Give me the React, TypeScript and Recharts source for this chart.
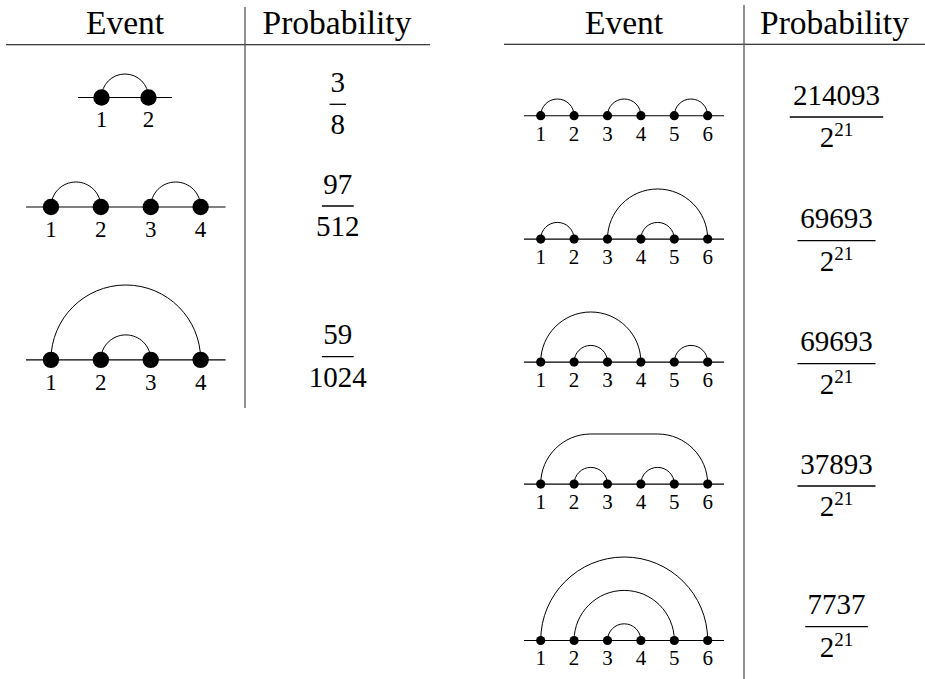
import React from 'react';
import { ComposedChart, Line, XAxis, YAxis } from 'recharts';

// ---------------- data ----------------
const HEADERS = ['Event', 'Probability'];

// left table: node labels, arcs [from, to, (optional height)] and probabilities
const LEFT_NODES: number[][] = [
  [1, 2],
  [1, 2, 3, 4],
  [1, 2, 3, 4],
];
const LEFT_ARCS: number[][][] = [
  [[1, 2]],
  [[1, 2], [3, 4]],
  [[1, 4], [2, 3]],
];
const LEFT_NUMERATORS = ['3', '97', '59'];
const LEFT_DENOMINATORS = ['8', '512', '1024'];

// right table
const RIGHT_NODES: number[] = [1, 2, 3, 4, 5, 6];
const RIGHT_ARCS: number[][][] = [
  [[1, 2], [3, 4], [5, 6]],
  [[1, 2], [3, 6], [4, 5]],
  [[1, 4], [2, 3], [5, 6]],
  [[1, 6, 1.5], [2, 3], [4, 5]],
  [[1, 6], [2, 5], [3, 4]],
];
const RIGHT_NUMERATORS = ['214093', '69693', '69693', '37893', '7737'];
const RIGHT_DEN_BASE = '2';
const RIGHT_DEN_EXP = '21';

// ---------------- layout ----------------
const SERIF = 'Liberation Serif';
const LEFT_LINE_Y = [97.7, 206.7, 360.3];
const LEFT_LINE_X = [78, 26, 26];
const LEFT_UNIT = [47, 49.9, 49.9];
const LEFT_BAR_Y = [104.3, 206, 356.7];
const RIGHT_LINE_Y = [116, 238.7, 361.7, 484.3, 640.7];
const RIGHT_BAR_Y = [117, 240.7, 363.7, 486, 626.7];

const textStyle: React.CSSProperties = { fontFamily: SERIF };

// curve factory drawing quarter-ellipse arcs between scaled points
const KAPPA = 0.5523;
function arcCurve(context: any) {
  let pts: [number, number][] = [];
  return {
    areaStart() {},
    areaEnd() {},
    lineStart() {
      pts = [];
    },
    point(x: number, y: number) {
      pts.push([+x, +y]);
    },
    lineEnd() {
      if (!pts.length) return;
      context.moveTo(pts[0][0], pts[0][1]);
      for (let i = 1; i < pts.length; i++) {
        const [x0, y0] = pts[i - 1];
        const [x1, y1] = pts[i];
        const dx = x1 - x0;
        const dy = y1 - y0;
        if (Math.abs(dy) < 0.01) context.lineTo(x1, y1);
        else if (dy < 0) context.bezierCurveTo(x0, y0 + KAPPA * dy, x1 - KAPPA * dx, y1, x1, y1);
        else context.bezierCurveTo(x0 + KAPPA * dx, y0, x1, y1 - KAPPA * dy, x1, y1);
      }
    },
  };
}

function arcPoints(arc: number[]) {
  const [a, b] = arc;
  const h = arc.length > 2 ? arc[2] : (b - a) / 2;
  if (Math.abs(h - (b - a) / 2) < 1e-9) {
    return [
      { x: a, y: 0 },
      { x: (a + b) / 2, y: h },
      { x: b, y: 0 },
    ];
  }
  return [
    { x: a, y: 0 },
    { x: a + h, y: h },
    { x: b - h, y: h },
    { x: b, y: 0 },
  ];
}

type DiagramProps = {
  nodes: number[];
  arcs: number[][];
  left: number;
  lineY: number;
  unit: number;
  r: number;
  fontSize: number;
  labelGap: number;
};

function ArcDiagram({ nodes, arcs, left, lineY, unit, r, fontSize, labelGap }: DiagramProps) {
  const n = nodes.length;
  const heights = arcs.map((a) => (a.length > 2 ? a[2] : (a[1] - a[0]) / 2));
  const maxH = Math.max(...heights);
  const plotH = maxH * unit;
  const marginTop = 3;
  const axisH = 40;
  const width = n * unit;
  const height = marginTop + plotH + axisH;
  const nodeData = nodes.map((v) => ({ x: v, y: 0 }));
  return (
    <div style={{ position: 'absolute', left, top: lineY - plotH - marginTop, width, height }}>
      <ComposedChart width={width} height={height} margin={{ top: marginTop, right: 0, bottom: 0, left: 0 }} style={textStyle}>
        <XAxis
          type="number"
          dataKey="x"
          domain={[0.5, n + 0.5]}
          ticks={nodes}
          interval={0}
          tickLine={false}
          tickSize={0}
          tickMargin={labelGap}
          height={axisH}
          axisLine={{ stroke: '#000', strokeWidth: 1.1 }}
          tick={{ fontSize, fill: '#000', fontFamily: SERIF }}
        />
        <YAxis type="number" domain={[0, maxH]} hide />
        {arcs.map((a, i) => (
          <Line
            key={'arc' + i}
            data={arcPoints(a)}
            dataKey="y"
            type={arcCurve as any}
            stroke="#000"
            strokeWidth={1}
            dot={false}
            activeDot={false}
            isAnimationActive={false}
          />
        ))}
        <Line
          data={nodeData}
          dataKey="y"
          stroke="none"
          isAnimationActive={false}
          activeDot={false}
          dot={(p: any) => <circle key={'n' + p.index} cx={p.cx} cy={p.cy} r={r} fill="#000" />}
        />
      </ComposedChart>
    </div>
  );
}

function Fraction({ cx, barY, num, den, exp }: { cx: number; barY: number; num: string; den: string; exp?: string }) {
  const w = num.length * 15.4 + 1;
  return (
    <g>
      <text x={cx} y={barY - 12.5} textAnchor="middle" fontSize={29} fontFamily={SERIF} fill="#000">
        {num}
      </text>
      <line x1={cx - w / 2} x2={cx + w / 2} y1={barY} y2={barY} stroke="#000" strokeWidth={1.3} />
      <text x={cx} y={barY + 30} textAnchor="middle" fontSize={29} fontFamily={SERIF} fill="#000">
        {den}
        {exp ? (
          <tspan dy={-11} fontSize={19}>
            {exp}
          </tspan>
        ) : null}
      </text>
    </g>
  );
}

export default function App() {
  return (
    <div style={{ position: 'absolute', left: 0, top: 0, width: 925, height: 679, background: '#fff', overflow: 'hidden', fontFamily: SERIF }}>
      <svg width={925} height={679} style={{ position: 'absolute', left: 0, top: 0 }}>
        {/* headers */}
        <text x={125} y={34} textAnchor="middle" fontSize={33.5} fontFamily={SERIF} fill="#000">{HEADERS[0]}</text>
        <text x={337} y={34} textAnchor="middle" fontSize={33.5} fontFamily={SERIF} fill="#000">{HEADERS[1]}</text>
        <text x={624} y={34} textAnchor="middle" fontSize={33.5} fontFamily={SERIF} fill="#000">{HEADERS[0]}</text>
        <text x={834.5} y={34} textAnchor="middle" fontSize={33.5} fontFamily={SERIF} fill="#000">{HEADERS[1]}</text>
        {/* rules */}
        <line x1={6} x2={430} y1={44.8} y2={44.8} stroke="#000" strokeWidth={1.1} />
        <line x1={504} x2={925} y1={44.2} y2={44.2} stroke="#000" strokeWidth={1.1} />
        <line x1={245} x2={245} y1={7} y2={408} stroke="#555" strokeWidth={1.3} />
        <line x1={744} x2={744} y1={5} y2={679} stroke="#555" strokeWidth={1.3} />
        {/* probabilities */}
        {LEFT_NUMERATORS.map((num, i) => (
          <Fraction key={'lf' + i} cx={337.8} barY={LEFT_BAR_Y[i]} num={num} den={LEFT_DENOMINATORS[i]} />
        ))}
        {RIGHT_NUMERATORS.map((num, i) => (
          <Fraction key={'rf' + i} cx={836.5} barY={RIGHT_BAR_Y[i]} num={num} den={RIGHT_DEN_BASE} exp={RIGHT_DEN_EXP} />
        ))}
      </svg>
      {LEFT_ARCS.map((arcs, i) => (
        <ArcDiagram
          key={'ld' + i}
          nodes={LEFT_NODES[i]}
          arcs={arcs}
          left={LEFT_LINE_X[i]}
          lineY={LEFT_LINE_Y[i]}
          unit={LEFT_UNIT[i]}
          r={8.2}
          fontSize={23}
          labelGap={13.5}
        />
      ))}
      {RIGHT_ARCS.map((arcs, i) => (
        <ArcDiagram
          key={'rd' + i}
          nodes={RIGHT_NODES}
          arcs={arcs}
          left={524}
          lineY={RIGHT_LINE_Y[i]}
          unit={33.4}
          r={4.6}
          fontSize={21}
          labelGap={10}
        />
      ))}
    </div>
  );
}
